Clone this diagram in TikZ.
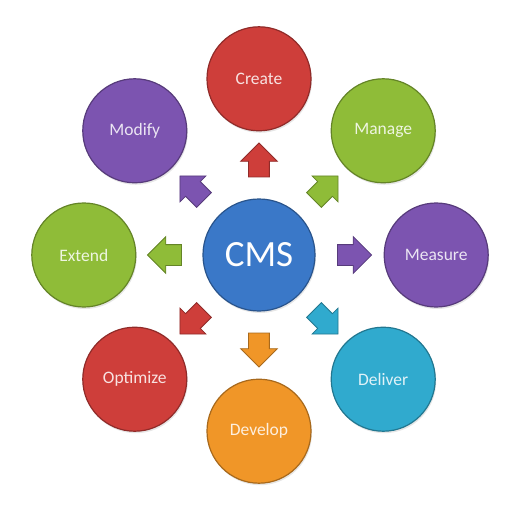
\documentclass[tikz,border=0pt]{standalone}
\usepackage{fontspec}
\setmainfont{Carlito}
\usepackage{xcolor}
\usetikzlibrary{calc, positioning, shapes.arrows, shadows}
\definecolor{cmsred}{RGB}{206,62,58}
\definecolor{cmsgreen}{RGB}{143,188,56}
\definecolor{cmspurple}{RGB}{124,84,176}
\definecolor{cmscyan}{RGB}{48,170,206}
\definecolor{cmsorange}{RGB}{240,150,40}
\definecolor{cmsblue}{RGB}{58,120,200}

\begin{document}
\begin{tikzpicture}[
 bubble/.style={circle, draw=#1!70!black, line width=1.2pt, fill=#1,
  minimum size=104pt, inner sep=0pt, text=white!85!#1,
  font=\fontsize{17.5}{20}\selectfont,
  drop shadow={opacity=0.2, shadow xshift=1pt, shadow yshift=-2pt}},
 hub/.style={bubble=cmsblue, minimum size=112pt, text=white,
  font=\fontsize{37}{40}\selectfont},
 blockarrow/.style={single arrow, fill=#1, draw=#1!70!black, thick,
  minimum height=34pt, inner xsep=0pt, inner ysep=10pt,
  single arrow head extend=8pt},
 ]
 \useasboundingbox (-259pt,-257pt) rectangle (253pt,255pt);
 \node[hub] (cms) at (0,0) {CMS};
 \node[bubble=cmsred, above=67pt of cms] (create) {Create};
 \node[bubble=cmsgreen, above right=47pt and 47pt of cms] (manage) {Manage};
 \node[bubble=cmspurple, right=68pt of cms] (measure) {Measure};
 \node[bubble=cmscyan, below right=47pt and 47pt of cms] (deliver) {Deliver};
 \node[bubble=cmsorange, below=67pt of cms] (develop) {Develop};
 \node[bubble=cmsred, below left=47pt and 47pt of cms] (optimize) {Optimize};
 \node[bubble=cmsgreen, left=66pt of cms] (extend) {Extend};
 \node[bubble=cmspurple, above left=47pt and 47pt of cms] (modify) {Modify};

 % arrows out of the hub
 \node[blockarrow=cmsred, rotate=90] (arrcreate) at ($(cms)!0.51!(create)$) {};
 \node[blockarrow=cmsgreen, rotate=45] (arrmanage) at ($(cms)!0.51!(manage)$) {};
 \node[blockarrow=cmspurple, rotate=0] (arrmeasure) at ($(cms)!0.51!(measure)$) {};
 \node[blockarrow=cmscyan, rotate=-45] (arrdeliver) at ($(cms)!0.51!(deliver)$) {};
 \node[blockarrow=cmsorange, rotate=-90] (arrdevelop) at ($(cms)!0.51!(develop)$) {};
 \node[blockarrow=cmsred, rotate=-135] (arroptimize) at ($(cms)!0.51!(optimize)$) {};
 \node[blockarrow=cmsgreen, rotate=180] (arrextend) at ($(cms)!0.51!(extend)$) {};
 \node[blockarrow=cmspurple, rotate=135] (arrmodify) at ($(cms)!0.51!(modify)$) {};
\end{tikzpicture}
\end{document}
